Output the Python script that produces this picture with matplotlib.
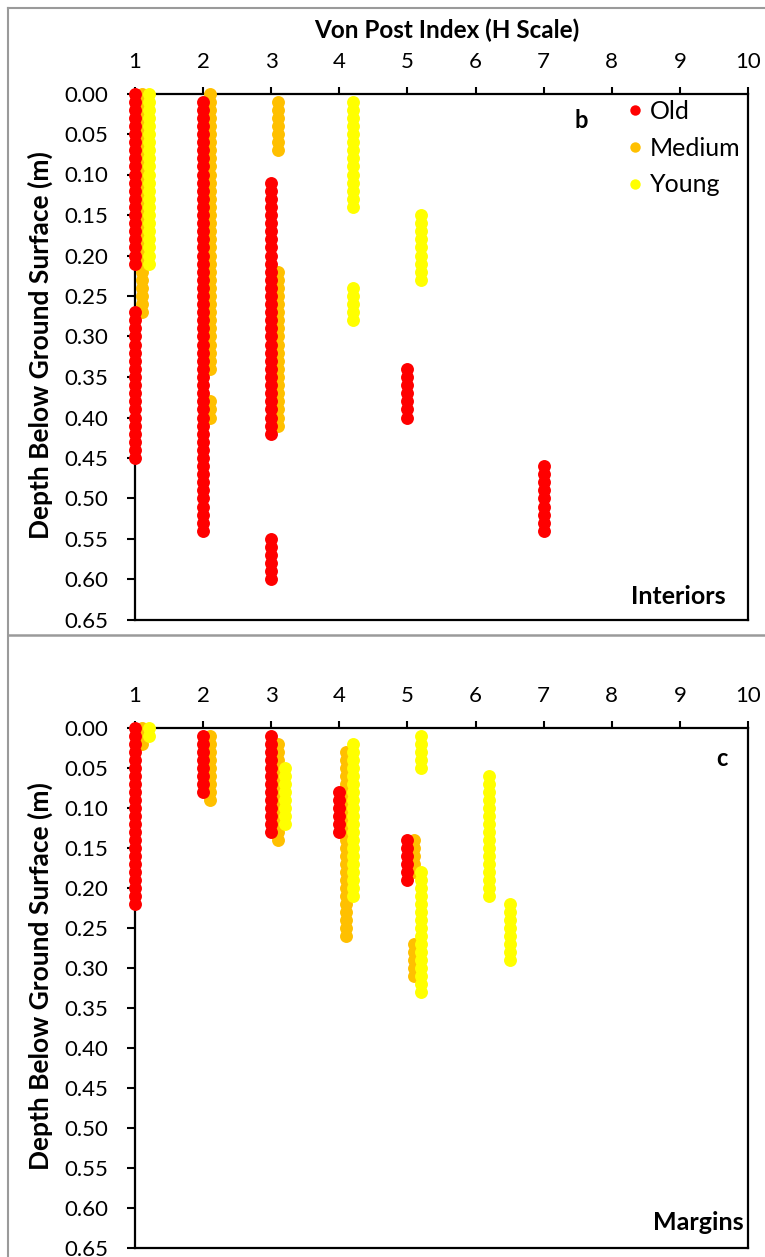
import matplotlib
matplotlib.use("Agg")
import matplotlib.pyplot as plt
import numpy as np
from matplotlib.lines import Line2D

# ---------------- data (core intervals sampled every 1 cm) ----------------
# Each run: x = Von Post index (offset 0.1 per age class), top / bottom depth (m)
# Panel b : Interiors
b_old_x   = [1.0, 1.0, 2.0, 3.0, 3.0, 5.0, 7.0]
b_old_top = [0.00, 0.27, 0.01, 0.11, 0.55, 0.34, 0.46]
b_old_bot = [0.21, 0.45, 0.54, 0.42, 0.60, 0.40, 0.54]

b_med_x   = [1.1, 2.1, 2.1, 3.1, 3.1]
b_med_top = [0.00, 0.00, 0.38, 0.01, 0.22]
b_med_bot = [0.27, 0.34, 0.40, 0.07, 0.41]

b_young_x   = [1.2, 4.2, 4.2, 5.2]
b_young_top = [0.00, 0.01, 0.24, 0.15]
b_young_bot = [0.21, 0.14, 0.28, 0.23]

# Panel c : Margins
c_old_x   = [1.0, 2.0, 3.0, 4.0, 5.0]
c_old_top = [0.00, 0.01, 0.01, 0.08, 0.14]
c_old_bot = [0.22, 0.08, 0.13, 0.13, 0.19]

c_med_x   = [1.1, 2.1, 3.1, 4.1, 5.1, 5.1]
c_med_top = [0.00, 0.01, 0.02, 0.03, 0.14, 0.27]
c_med_bot = [0.02, 0.09, 0.14, 0.26, 0.18, 0.31]

c_young_x   = [1.2, 3.2, 4.2, 5.2, 5.2, 6.2, 6.5]
c_young_top = [0.00, 0.05, 0.02, 0.01, 0.18, 0.06, 0.22]
c_young_bot = [0.01, 0.12, 0.21, 0.05, 0.33, 0.21, 0.29]

groups = ["Old", "Medium", "Young"]
colors = {"Old": "#FF0000", "Medium": "#FFC000", "Young": "#FFFF00"}
x_ticks = list(range(1, 11))
y_ticks = [0.00, 0.05, 0.10, 0.15, 0.20, 0.25, 0.30, 0.35, 0.40, 0.45, 0.50, 0.55, 0.60, 0.65]

STEP = 0.01  # sampling interval of the cores (m)


def expand(xs, tops, bots):
    X, Y = [], []
    for x, t, b in zip(xs, tops, bots):
        n = int(round((b - t) / STEP)) + 1
        X += [x] * n
        Y += [round(t + STEP * i, 2) for i in range(n)]
    return X, Y


# ---------------- figure ----------------
W, H = 765, 1257
plt.rcParams["font.family"] = ["Lato", "DejaVu Sans"]
fig = plt.figure(figsize=(W / 100, H / 100), dpi=100)


def px_axes(l, t, r, b):
    return fig.add_axes([l / W, 1 - b / H, (r - l) / W, (b - t) / H])


axb = px_axes(135, 93.5, 748, 620)
axc = px_axes(135, 727.7, 748, 1247.7)

panels = [
    (axb, {"Old": (b_old_x, b_old_top, b_old_bot),
           "Medium": (b_med_x, b_med_top, b_med_bot),
           "Young": (b_young_x, b_young_top, b_young_bot)}),
    (axc, {"Old": (c_old_x, c_old_top, c_old_bot),
           "Medium": (c_med_x, c_med_top, c_med_bot),
           "Young": (c_young_x, c_young_top, c_young_bot)}),
]

TICK_FS = 16
for ax, data in panels:
    for g in ["Medium", "Old", "Young"]:
        X, Y = expand(*data[g])
        ax.plot(X, Y, "o", color=colors[g], ms=9.3, mew=0, clip_on=False, zorder=3)
    ax.set_xlim(1, 10)
    ax.set_ylim(0.65, 0)
    ax.set_xticks(x_ticks)
    ax.set_xticklabels([str(t) for t in x_ticks])
    ax.set_yticks(y_ticks)
    ax.set_yticklabels([f"{t:.2f}" for t in y_ticks])
    ax.xaxis.tick_top()
    ax.tick_params(axis="x", top=True, bottom=False, direction="out", length=5,
                   width=1.5, pad=10.5, labelsize=TICK_FS)
    ax.tick_params(axis="y", left=True, direction="out", length=6,
                   width=1.5, pad=13, labelsize=TICK_FS)
    for s in ax.spines.values():
        s.set_linewidth(1.6)
        s.set_color("black")

# panel annotations
fig.text(581 / W, 1 - 121 / H, "b", ha="center", va="center", fontsize=17, fontweight="bold")
fig.text(726 / W, 1 - 596 / H, "Interiors", ha="right", va="center", fontsize=18, fontweight="bold")
fig.text(722 / W, 1 - 758 / H, "c", ha="center", va="center", fontsize=17, fontweight="bold")
fig.text(744 / W, 1 - 1222 / H, "Margins", ha="right", va="center", fontsize=18, fontweight="bold")

# axis titles
fig.text(447 / W, 1 - 30 / H, "Von Post Index (H Scale)", ha="center", va="center",
         fontsize=17.5, fontweight="bold")
for yc in (345, 976):
    fig.text(40 / W, 1 - yc / H, "Depth Below Ground Surface (m)", ha="center", va="center",
             rotation=90, fontsize=19, fontweight="bold")

# legend
handles = [Line2D([], [], ls="none", marker="o", ms=7.5, mew=0, color=colors[g]) for g in groups]
axb.legend(handles, groups, loc="upper left", bbox_to_anchor=(627 / W, 1 - 100 / H),
           bbox_transform=fig.transFigure, frameon=False, fontsize=18,
           handlelength=0.6, handletextpad=0.3, borderaxespad=0, borderpad=0,
           labelspacing=0.55)

# chart-area frames
gray = "#9a9a9a"
fig.add_artist(Line2D([8 / W, 1], [1 - 8 / H, 1 - 8 / H], transform=fig.transFigure, color=gray, lw=1.5))
fig.add_artist(Line2D([8 / W, 8 / W], [0, 1 - 8 / H], transform=fig.transFigure, color=gray, lw=1.5))
fig.add_artist(Line2D([8 / W, 1], [1 - 635 / H, 1 - 635 / H], transform=fig.transFigure, color=gray, lw=1.8))

fig.savefig("out.png", dpi=100)
